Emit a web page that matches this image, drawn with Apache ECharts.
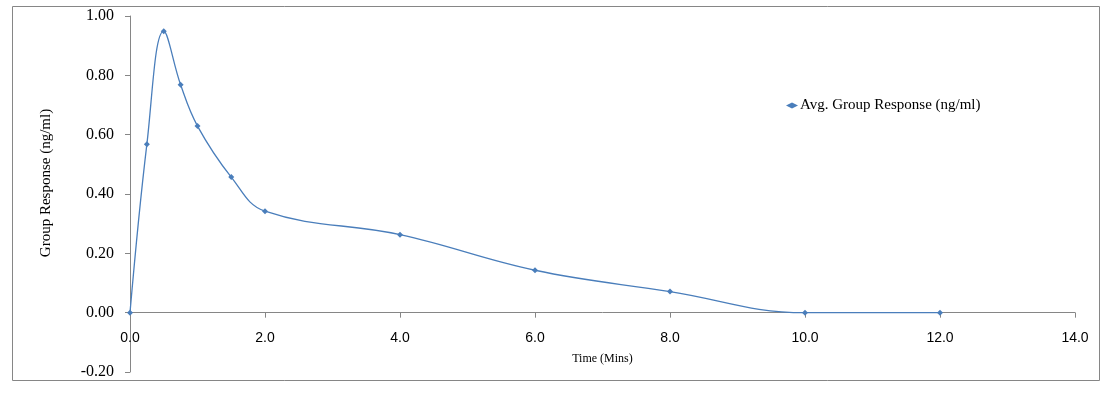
<!DOCTYPE html>
<html>
<head>
<meta charset="utf-8">
<script src="https://cdn.jsdelivr.net/npm/echarts@6/dist/echarts.min.js"></script>
<style>
  html, body { margin: 0; padding: 0; background: #fff; }
  #chart { width: 1112px; height: 398px; }
</style>
</head>
<body>
<div id="chart"></div>
<script>
// values
const timeMins = [0, 0.25, 0.5, 0.75, 1, 1.5, 2, 4, 6, 8, 10, 12]
const avgResponse = [0, 0.568, 0.949, 0.768, 0.629, 0.457, 0.342, 0.263, 0.143, 0.071, 0.0, 0.0]
const seriesName = 'Avg. Group Response (ng/ml)'

const serif = '"Liberation Serif", "Times New Roman", serif'
const axisGrey = '#868686'
const lineBlue = '#4a7ebb'

const gridTop = 16
const gridBottom = 26
const yMin = -0.2
const yMax = 1.0
// x axis sits on y = 0, shift it up from the grid bottom by that much
const plotH = 398 - gridTop - gridBottom
const zeroShift = plotH * (0 - yMin) / (yMax - yMin)

const chart = echarts.init(document.getElementById('chart'), null, { renderer: 'canvas' })

const option = {
  animation: false,
  backgroundColor: '#fff',
  grid: { left: 130, right: 37, top: gridTop, bottom: gridBottom, outerBoundsMode: 'none', containLabel: false },
  legend: {
    left: 781,
    top: 93,
    itemWidth: 12,
    itemHeight: 6,
    itemGap: 0,
    textStyle: { fontFamily: serif, fontSize: 15, color: '#000', padding: [0, 0, 0, -3] },
    data: [{ name: seriesName, icon: 'diamond' }]
  },
  graphic: [
    {
      type: 'rect',
      shape: { x: 12.5, y: 6.5, width: 1087, height: 374 },
      style: { fill: 'none', stroke: axisGrey, lineWidth: 1 },
      silent: true
    }
  ],
  xAxis: {
    type: 'value',
    min: 0,
    max: 14,
    interval: 2,
    offset: -zeroShift,
    name: 'Time (Mins)',
    nameLocation: 'middle',
    nameGap: 40,
    nameTextStyle: { fontFamily: serif, fontSize: 12, color: '#000' },
    axisLine: { onZero: false, lineStyle: { color: axisGrey, width: 1 } },
    axisTick: { show: true, length: 5, lineStyle: { color: axisGrey } },
    axisLabel: {
      margin: 18,
      fontFamily: '"Liberation Sans", Arial, sans-serif',
      fontSize: 14,
      color: '#000',
      formatter: v => v.toFixed(1)
    },
    splitLine: { show: false }
  },
  yAxis: {
    type: 'value',
    min: yMin,
    max: yMax,
    interval: 0.2,
    name: 'Group Response (ng/ml)',
    nameLocation: 'middle',
    nameGap: 76,
    nameTextStyle: { fontFamily: serif, fontSize: 15, color: '#000', padding: [0, 0, 0, 22] },
    axisLine: { show: true, lineStyle: { color: axisGrey, width: 1 } },
    axisTick: { show: true, length: 5, lineStyle: { color: axisGrey } },
    axisLabel: {
      margin: 16,
      fontFamily: serif,
      fontSize: 16,
      color: '#000',
      formatter: v => v.toFixed(2)
    },
    splitLine: { show: false }
  },
  series: [
    {
      name: seriesName,
      type: 'line',
      smooth: 0.4,
      data: timeMins.map((t, i) => [t, avgResponse[i]]),
      symbol: 'diamond',
      symbolSize: 6,
      showAllSymbol: true,
      lineStyle: { color: lineBlue, width: 1.3 },
      itemStyle: { color: lineBlue }
    }
  ]
}

option && chart.setOption(option, true)
</script>
</body>
</html>
